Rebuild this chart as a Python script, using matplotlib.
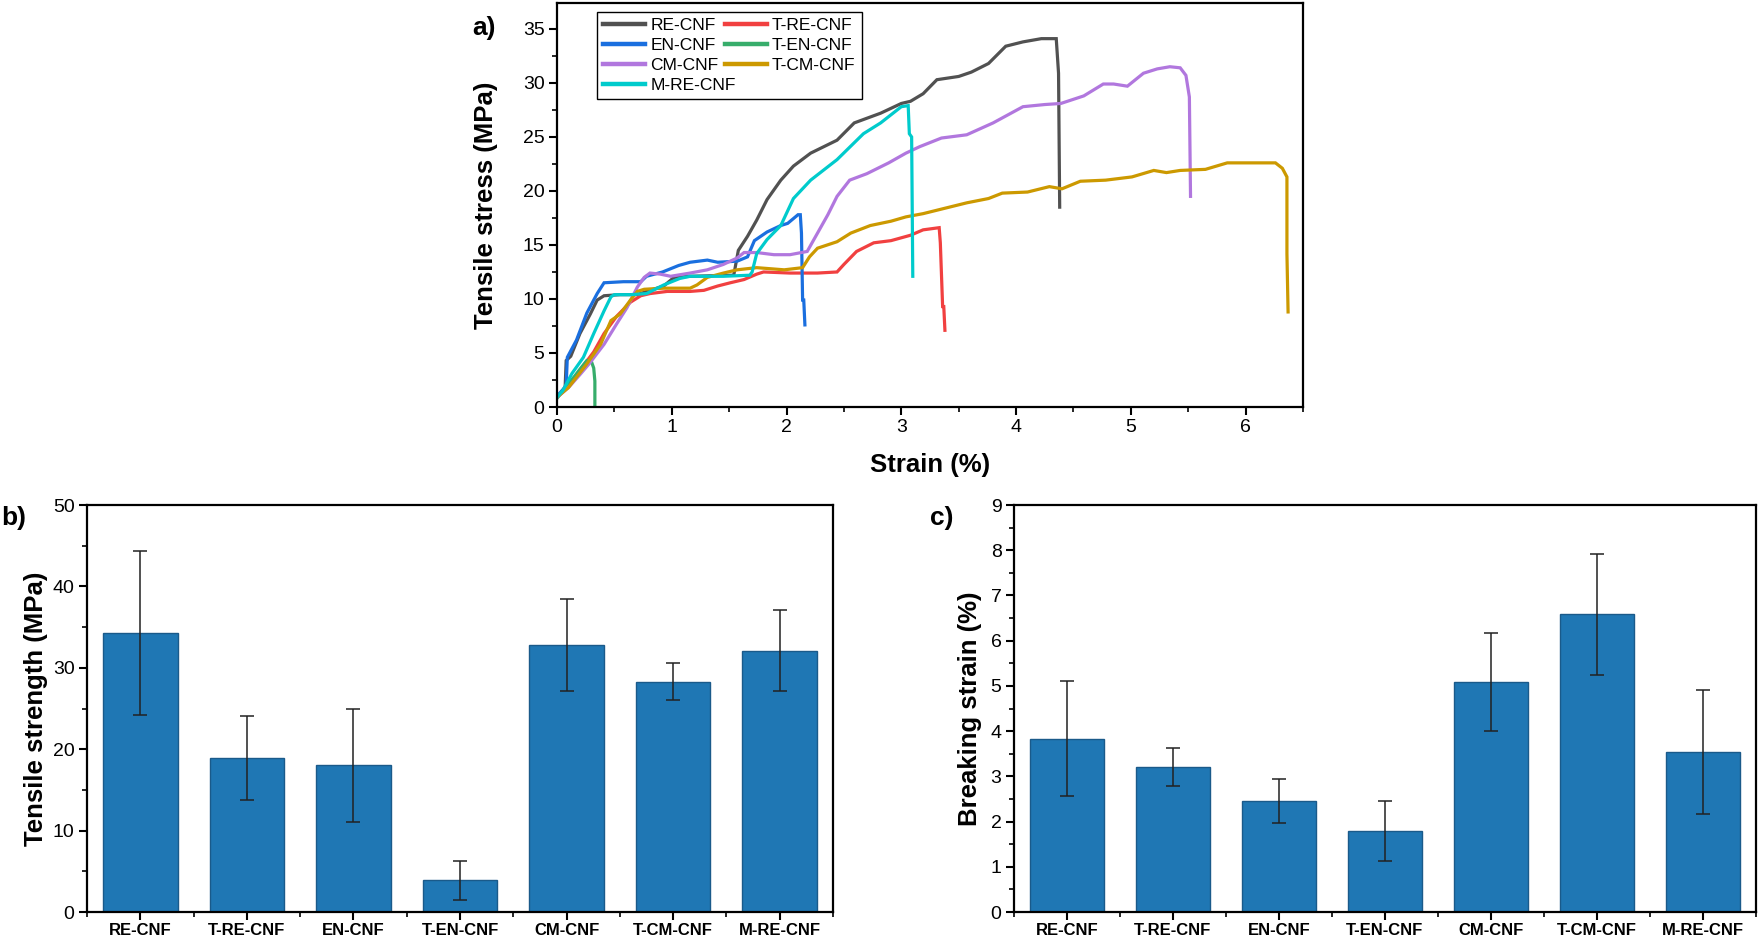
import matplotlib
matplotlib.use("Agg")
import matplotlib.pyplot as plt
from matplotlib.ticker import MultipleLocator, FixedLocator

plt.rcParams['font.family'] = ['Liberation Sans', 'DejaVu Sans']

# ---------------- data: stress-strain curves ----------------
re_cnf_x = [0.0, 0.04, 0.07, 0.08, 0.12, 0.2, 0.29, 0.35, 0.41, 0.55, 0.7, 0.81, 0.93, 1.02, 1.16, 1.54, 1.58, 1.66,
            1.74, 1.83, 1.95, 2.06, 2.21, 2.44, 2.59, 2.82, 3.0, 3.08, 3.19, 3.31, 3.5, 3.61, 3.76, 3.91, 4.06, 4.22,
            4.35, 4.37, 4.38]
re_cnf_y = [0.9, 1.3, 1.6, 4.3, 4.7, 6.8, 8.6, 9.9, 10.3, 10.4, 10.4, 10.8, 11.2, 12.0, 12.1, 12.2, 14.5, 15.8,
            17.3, 19.2, 21.0, 22.3, 23.5, 24.7, 26.3, 27.2, 28.1, 28.3, 29.0, 30.3, 30.6, 31.0, 31.8, 33.4, 33.8, 34.1,
            34.1, 30.9, 18.5]

t_re_cnf_x = [0.0, 0.1, 0.2, 0.32, 0.41, 0.52, 0.64, 0.73, 0.81, 0.96, 1.16, 1.28, 1.4, 1.51, 1.63, 1.74, 1.8, 2.03,
              2.27, 2.44, 2.5, 2.61, 2.76, 2.91, 3.08, 3.19, 3.33, 3.34, 3.36, 3.37, 3.38]
t_re_cnf_y = [0.9, 2.0, 3.4, 5.1, 6.8, 8.4, 9.7, 10.3, 10.5, 10.7, 10.7, 10.8, 11.2, 11.5, 11.8, 12.3, 12.5, 12.4,
              12.4, 12.5, 13.2, 14.4, 15.2, 15.4, 15.9, 16.4, 16.6, 15.2, 9.3, 9.3, 7.1]

en_cnf_x = [0.0, 0.05, 0.08, 0.09, 0.17, 0.26, 0.35, 0.41, 0.58, 0.73, 0.78, 0.92, 1.06, 1.16, 1.31, 1.4, 1.57,
            1.66, 1.72, 1.83, 1.95, 2.01, 2.1, 2.12, 2.13, 2.14, 2.15, 2.16]
en_cnf_y = [1.0, 1.6, 2.0, 4.6, 6.2, 8.7, 10.5, 11.5, 11.6, 11.6, 12.1, 12.5, 13.1, 13.4, 13.6, 13.4, 13.5,
            13.9, 15.4, 16.2, 16.8, 17.0, 17.8, 17.8, 16.1, 9.9, 9.9, 7.6]

t_en_cnf_x = [0.0, 0.05, 0.1, 0.15, 0.2, 0.26, 0.3, 0.32, 0.33, 0.33]
t_en_cnf_y = [0.8, 1.5, 2.2, 2.8, 3.5, 4.3, 4.2, 3.6, 2.4, 0.0]

cm_cnf_x = [0.0, 0.1, 0.2, 0.28, 0.41, 0.52, 0.61, 0.7, 0.76, 0.81, 0.9, 0.99, 1.16, 1.31, 1.45, 1.57, 1.63, 1.74,
            1.89, 2.03, 2.18, 2.27, 2.36, 2.44, 2.55, 2.7, 2.89, 3.04, 3.16, 3.35, 3.57, 3.8, 4.06, 4.25, 4.39, 4.59,
            4.76, 4.85, 4.97, 5.11, 5.23, 5.34, 5.43, 5.48, 5.51, 5.52]
cm_cnf_y = [0.9, 1.8, 3.0, 4.0, 5.8, 7.7, 9.2, 11.1, 12.0, 12.4, 12.3, 12.1, 12.4, 12.7, 13.2, 13.8, 14.3, 14.3,
            14.1, 14.1, 14.4, 16.1, 17.8, 19.5, 21.0, 21.6, 22.6, 23.5, 24.1, 24.9, 25.2, 26.3, 27.8, 28.0, 28.1, 28.8,
            29.9, 29.9, 29.7, 30.9, 31.3, 31.5, 31.4, 30.7, 28.7, 19.5]

t_cm_cnf_x = [0.0, 0.1, 0.26, 0.38, 0.47, 0.55, 0.64, 0.7, 0.76, 0.93, 1.16, 1.22, 1.31, 1.45, 1.57, 1.74, 1.98,
              2.14, 2.2, 2.27, 2.44, 2.56, 2.73, 2.91, 3.04, 3.19, 3.38, 3.57, 3.76, 3.88, 4.1, 4.29, 4.4, 4.56, 4.78,
              5.01, 5.2, 5.31, 5.43, 5.65, 5.84, 5.98, 6.19, 6.26, 6.32, 6.36, 6.36, 6.37]
t_cm_cnf_y = [0.9, 1.8, 4.0, 5.8, 8.0, 8.6, 9.9, 10.7, 10.9, 11.0, 11.0, 11.3, 12.0, 12.4, 12.7, 12.9, 12.7,
              12.9, 13.9, 14.7, 15.3, 16.1, 16.8, 17.2, 17.6, 17.9, 18.4, 18.9, 19.3, 19.8, 19.9, 20.4, 20.2, 20.9, 21.0,
              21.3, 21.9, 21.7, 21.9, 22.0, 22.6, 22.6, 22.6, 22.6, 22.1, 21.3, 14.2, 8.8]

m_re_cnf_x = [0.0, 0.05, 0.13, 0.23, 0.32, 0.41, 0.47, 0.5, 0.64, 0.78, 0.93, 1.07, 1.16, 1.45, 1.68, 1.7, 1.74,
              1.83, 1.95, 2.06, 2.21, 2.44, 2.67, 2.82, 3.0, 3.06, 3.07, 3.09, 3.1]
m_re_cnf_y = [0.9, 1.5, 3.1, 4.6, 6.8, 8.9, 10.2, 10.4, 10.4, 10.5, 11.3, 11.9, 12.1, 12.1, 12.2, 12.5, 14.2,
              15.5, 16.8, 19.3, 21.0, 22.9, 25.3, 26.3, 27.8, 27.9, 25.3, 25.0, 12.1]

# ---------------- data: bar charts ----------------
categories = ['RE-CNF', 'T-RE-CNF', 'EN-CNF', 'T-EN-CNF', 'CM-CNF', 'T-CM-CNF', 'M-RE-CNF']
tensile_strength = [34.3, 18.9, 18.0, 3.9, 32.8, 28.3, 32.1]
tensile_strength_err = [10.1, 5.2, 7.0, 2.4, 5.7, 2.25, 4.95]
breaking_strain = [3.83, 3.2, 2.45, 1.79, 5.08, 6.58, 3.54]
breaking_strain_err = [1.27, 0.42, 0.49, 0.67, 1.08, 1.34, 1.37]

series = [
    ('RE-CNF', re_cnf_x, re_cnf_y, '#515151'),
    ('EN-CNF', en_cnf_x, en_cnf_y, '#1A6FDF'),
    ('CM-CNF', cm_cnf_x, cm_cnf_y, '#B177DE'),
    ('M-RE-CNF', m_re_cnf_x, m_re_cnf_y, '#00CBCC'),
    ('T-RE-CNF', t_re_cnf_x, t_re_cnf_y, '#F14040'),
    ('T-EN-CNF', t_en_cnf_x, t_en_cnf_y, '#37AD6B'),
    ('T-CM-CNF', t_cm_cnf_x, t_cm_cnf_y, '#CC9900'),
]

W, H = 1761, 938
fig = plt.figure(figsize=(W / 100, H / 100), dpi=100)


def px_axes(l, t, r, b):
    return fig.add_axes([l / W, 1 - b / H, (r - l) / W, (b - t) / H])


def style_axes(ax, tick_size):
    for s in ax.spines.values():
        s.set_linewidth(1.6)
        s.set_color('black')
    ax.tick_params(which='major', direction='out', length=6, width=1.5, labelsize=tick_size, pad=3)
    ax.tick_params(which='minor', direction='out', length=3.5, width=1.2)
    ax.tick_params(top=False, right=False, which='both')


# ---------------- panel a ----------------
axa = px_axes(557, 3, 1303, 407)
draw_order = ['RE-CNF', 'T-RE-CNF', 'EN-CNF', 'T-EN-CNF', 'CM-CNF', 'T-CM-CNF', 'M-RE-CNF']
lines = {}
for name in draw_order:
    for n, xs, ys, c in series:
        if n == name:
            ln, = axa.plot(xs, ys, color=c, lw=2.3, label=n, solid_joinstyle='miter')
            lines[n] = ln
axa.set_xlim(0, 6.5)
axa.set_ylim(0, 37.4)
axa.xaxis.set_major_locator(MultipleLocator(1))
axa.xaxis.set_minor_locator(MultipleLocator(0.5))
axa.yaxis.set_major_locator(MultipleLocator(5))
axa.yaxis.set_minor_locator(MultipleLocator(2.5))
style_axes(axa, 14)
axa.set_ylabel('Tensile stress (MPa)', fontsize=18.5, fontweight='bold', labelpad=18)
axa.set_xlabel('Strain (%)', fontsize=18.5, fontweight='bold', labelpad=12)
handles = [lines[n] for n, *_ in series]
leg = axa.legend(handles=handles, labels=[n for n, *_ in series], ncol=2, loc='upper left',
                 bbox_to_anchor=(0.054, 0.978), fontsize=12.5, frameon=True, fancybox=False,
                 edgecolor='black', framealpha=1, borderpad=0.35, labelspacing=0.28, handlelength=2.4,
                 handletextpad=0.3, columnspacing=-0.6, borderaxespad=0)
leg.get_frame().set_linewidth(1.0)
for lh in leg.get_lines():
    lh.set_linewidth(3.2)
fig.text(484 / W, 1 - 28 / H, 'a)', fontsize=19, fontweight='bold', ha='center', va='center')


# ---------------- bar panels ----------------
def bar_panel(ax, vals, errs, ymax, ystep, yminor, ylabel, lpad):
    xs = list(range(len(categories)))
    ax.bar(xs, vals, width=0.7, color='#1F77B4', edgecolor='#1a5a8a', linewidth=1.0, zorder=2)
    ax.errorbar(xs, vals, yerr=errs, fmt='none', ecolor='#222222', elinewidth=1.1, capsize=5,
                capthick=1.1, zorder=3)
    ax.set_xlim(-0.5, len(categories) - 0.5)
    ax.set_ylim(0, ymax)
    ax.set_xticks(xs)
    ax.set_xticklabels(categories, fontsize=12, fontweight='bold')
    ax.xaxis.set_minor_locator(FixedLocator([i + 0.5 for i in range(-1, len(categories))]))
    ax.yaxis.set_major_locator(MultipleLocator(ystep))
    ax.yaxis.set_minor_locator(MultipleLocator(yminor))
    style_axes(ax, 14)
    ax.tick_params(axis='x', which='major', labelsize=12, pad=2)
    ax.set_ylabel(ylabel, fontsize=18.5, fontweight='bold', labelpad=lpad)


axb = px_axes(87, 505, 833, 912)
bar_panel(axb, tensile_strength, tensile_strength_err, 50, 10, 5, 'Tensile strength (MPa)', 3)
fig.text(14 / W, 1 - 518 / H, 'b)', fontsize=19, fontweight='bold', ha='center', va='center')

axc = px_axes(1014, 505, 1756, 912)
bar_panel(axc, breaking_strain, breaking_strain_err, 9, 1, 0.5, 'Breaking strain (%)', 6)
fig.text(942 / W, 1 - 518 / H, 'c)', fontsize=19, fontweight='bold', ha='center', va='center')

fig.savefig('out.png', dpi=100)
